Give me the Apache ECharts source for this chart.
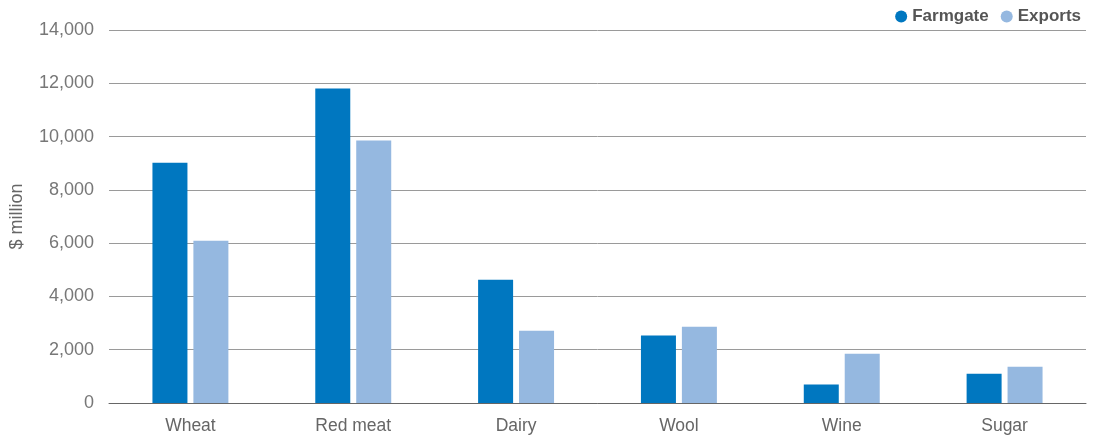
<!DOCTYPE html>
<html>
<head>
<meta charset="utf-8">
<script src="https://cdn.jsdelivr.net/npm/echarts@6/dist/echarts.min.js"></script>
<style>
  html, body { margin: 0; padding: 0; background: #fff; }
  #chart { width: 1100px; height: 441px; }
</style>
</head>
<body>
<div id="chart"></div>
<script>
// Value of production at the farmgate versus exports, $ million
const categories = ['Wheat', 'Red meat', 'Dairy', 'Wool', 'Wine', 'Sugar'];
const farmgate = [9020, 11800, 4630, 2530, 690, 1100];
const exportsValues = [6090, 9850, 2710, 2860, 1850, 1360];
const yTicks = { min: 0, max: 14000, interval: 2000 };

const chart = echarts.init(document.getElementById('chart'));
const fontFamily = '"Liberation Sans", Arial, Helvetica, sans-serif';

chart.setOption({
  animation: false,
  textStyle: { fontFamily: fontFamily },
  legend: {
    right: 14,
    top: 3,
    icon: 'circle',
    itemWidth: 12,
    itemHeight: 12,
    itemGap: 12,
    textStyle: { fontSize: 17, color: '#555', fontWeight: 'bold', fontFamily: fontFamily },
    data: ['Farmgate', 'Exports']
  },
  grid: { left: 108, right: 14, top: 30, bottom: 38 },
  xAxis: {
    type: 'category',
    data: categories,
    axisTick: { show: false },
    axisLine: { lineStyle: { color: '#666', width: 1 } },
    axisLabel: { color: '#666', fontSize: 17.5, margin: 14, fontFamily: fontFamily }
  },
  yAxis: {
    type: 'value',
    min: yTicks.min,
    max: yTicks.max,
    interval: yTicks.interval,
    name: '$ million',
    nameLocation: 'middle',
    nameGap: 83,
    nameTextStyle: { color: '#666', fontSize: 18, fontFamily: fontFamily },
    axisLine: { show: false },
    axisTick: { show: false },
    axisLabel: {
      color: '#777',
      fontSize: 18,
      margin: 15,
      fontFamily: fontFamily,
      formatter: v => v.toLocaleString('en-US')
    },
    splitLine: { lineStyle: { color: '#9a9a9a', width: 1 } }
  },
  series: [
    {
      name: 'Farmgate',
      type: 'bar',
      data: farmgate,
      barWidth: 35,
      barGap: '17%',
      itemStyle: { color: '#0077c0' }
    },
    {
      name: 'Exports',
      type: 'bar',
      data: exportsValues,
      barWidth: 35,
      itemStyle: { color: '#95b8e0' }
    }
  ]
});
</script>
</body>
</html>
